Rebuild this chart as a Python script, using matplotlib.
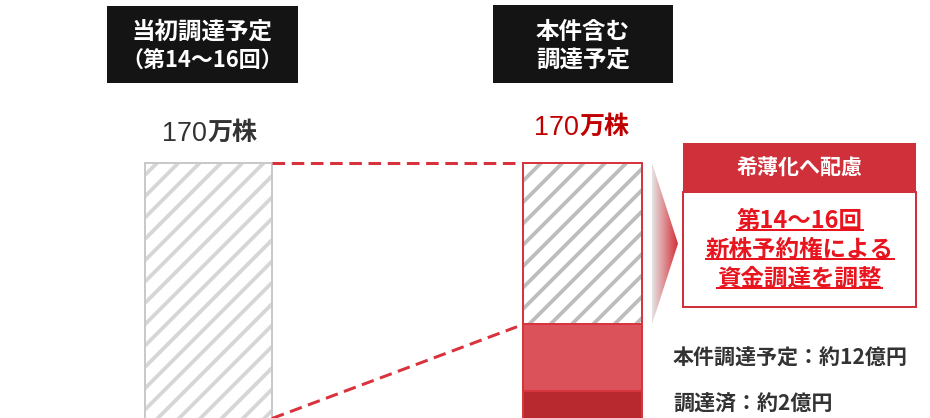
import matplotlib.pyplot as plt
import numpy as np
from matplotlib.patches import Rectangle, Polygon
from matplotlib.colors import LinearSegmentedColormap

plt.rcParams['font.family'] = ['Noto Sans CJK JP', 'DejaVu Sans']

# データ（万株）
bar_titles = ['当初調達予定\n（第14～16回）', '本件含む\n調達予定']
total_shares = [170, 170]
raised_done = 30      # 調達済
raised_this = 41      # 本件調達予定
remaining = total_shares[1] - raised_done - raised_this   # 第14～16回 残り
seg_texts = ['本件調達予定：約12億円', '調達済：約2億円']
box_title = '希薄化へ配慮'
box_lines = ['第14～16回', '新株予約権による', '資金調達を調整']

DPI = 64
W, H = 930, 418


def pt(px):
    # ピクセル -> ポイント
    return px * 72 / DPI


def rect(x0, y0, x1, y1, **kw):
    # 画像座標（左上原点）で図に四角を置く
    r = Rectangle((x0 / W, 1 - y1 / H), (x1 - x0) / W, (y1 - y0) / H,
                  transform=fig.transFigure, **kw)
    fig.add_artist(r)
    return r


def ftext(x, y, s, **kw):
    return fig.text(x / W, 1 - y / H, s, **kw)


plt.rcParams['hatch.linewidth'] = pt(3.8)

fig = plt.figure(figsize=(W / DPI, H / DPI), dpi=DPI)
ax = fig.add_axes([0, 0, 1, 1])
ax.set_xlim(0, W)
ax.set_ylim(13.5, 270)
ax.axis('off')

x_pos = [208.5, 582.5]
widths = [127, 119]
red_edge = '#d7353e'

# 左の棒（斜線）
ax.bar(x_pos[0], total_shares[0], width=widths[0], color='white',
       edgecolor='#d6d6d6', hatch='/', linewidth=0)
ax.bar(x_pos[0], total_shares[0], width=widths[0], fill=False,
       edgecolor='#c9c9c9', linewidth=pt(2))

# 右の棒
ax.bar(x_pos[1], raised_done, width=widths[1], color='#b8282f',
       edgecolor=red_edge, linewidth=pt(2))
ax.bar(x_pos[1], raised_this, bottom=raised_done, width=widths[1],
       color='#dc525a', edgecolor=red_edge, linewidth=pt(2))
ax.bar(x_pos[1], remaining, bottom=raised_done + raised_this, width=widths[1],
       color='white', edgecolor='#bdbdbd', hatch='/', linewidth=0)
ax.bar(x_pos[1], remaining, bottom=raised_done + raised_this, width=widths[1],
       fill=False, edgecolor=red_edge, linewidth=pt(2))

# 破線
left_r = x_pos[0] + widths[0] / 2
right_l = x_pos[1] - widths[1] / 2
for xs, ys in [([left_r, right_l], [total_shares[0], total_shares[1]]),
               ([left_r, right_l - 6], [13.2, raised_done + raised_this - 1.5])]:
    ln, = ax.plot(xs, ys, color='#d9323c', linewidth=pt(3))
    ln.set_dashes([4.2, 2.2])

# グラデーションの三角
top = total_shares[1]
bot = raised_done + raised_this
tri = Polygon([(652, top), (678, (top + bot) / 2), (652, bot)],
              closed=True, facecolor='none', edgecolor='none')
ax.add_patch(tri)
cmap = LinearSegmentedColormap.from_list('g', ['#e6e3e3', '#d42f38'])
im = ax.imshow(np.linspace(0, 1, 100).reshape(1, -1), cmap=cmap,
               extent=(652, 678, bot, top), aspect='auto', zorder=1)
im.set_clip_path(tri)
ax.set_xlim(0, W)
ax.set_ylim(13.5, 270)

# 上の黒いボックス
rect(107, 6, 298, 83, facecolor='#141414', edgecolor='none')
rect(493, 5, 673, 83, facecolor='#141414', edgecolor='none')
t1, t2 = bar_titles[0].split('\n')
ftext(202, 32, t1, color='white', fontsize=pt(23.5), fontweight='bold',
      ha='center', va='center')
ftext(202, 61, t2, color='white', fontsize=pt(22), fontweight='bold',
      ha='center', va='center')
t1, t2 = bar_titles[1].split('\n')
ftext(583, 32, t1, color='white', fontsize=pt(23.5), fontweight='bold',
      ha='center', va='center')
ftext(583, 60, t2, color='white', fontsize=pt(23.5), fontweight='bold',
      ha='center', va='center')

# 170万株 ラベル
for xc, yc, col in [(207, 134, '#333333'), (579, 128, '#c00000')]:
    ftext(xc, yc, str(total_shares[0]), color=col, fontsize=pt(27),
          family=['Liberation Sans'], ha='right', va='center')
    ftext(xc + 1, yc - 1, '万株', color=col, fontsize=pt(25),
          fontweight='bold', ha='left', va='center')

# 右側のボックス
rect(683, 143, 916, 192, facecolor='#d0303a', edgecolor='none')
rect(683, 192, 916, 307, facecolor='white', edgecolor='#d0303a',
     linewidth=pt(2))
ftext(799.5, 168, box_title, color='white', fontsize=pt(21),
      fontweight='bold', ha='center', va='center')
red_texts = []
for yc, s in zip([221, 250, 279], box_lines):
    red_texts.append(ftext(799.5, yc, s, color='#e8141e', fontsize=pt(23.5),
                           fontweight='bold', ha='center', va='center'))

# 下の説明
ftext(673, 358, seg_texts[0], color='#333333', fontsize=pt(21),
      fontweight='bold', ha='left', va='center')
ftext(673, 404, seg_texts[1], color='#333333', fontsize=pt(21),
      fontweight='bold', ha='left', va='center')

# 下線
fig.canvas.draw()
renderer = fig.canvas.get_renderer()
for t in red_texts:
    bb = t.get_window_extent(renderer).transformed(fig.transFigure.inverted())
    yline = bb.y0 + 3 / H
    fig.add_artist(plt.Line2D([bb.x0, bb.x1], [yline, yline],
                              transform=fig.transFigure, color='#e8141e',
                              linewidth=pt(2)))

fig.savefig('out.png', dpi=DPI)
